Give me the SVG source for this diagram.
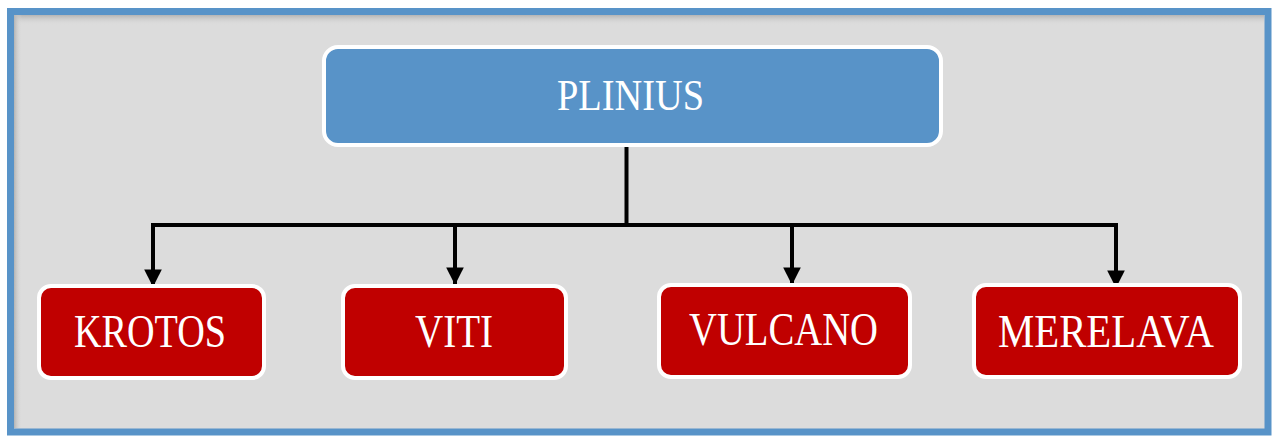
<svg xmlns="http://www.w3.org/2000/svg" width="1277" height="438" viewBox="0 0 1277 438">
<defs>
<style>
.frame{fill:#dcdcdc;stroke:#5893c8;stroke-width:7}
.top{fill:#5893c8;stroke:#fff;stroke-width:4}
.child{fill:#c00000;stroke:#fff;stroke-width:4}
.lbl{font-family:"Liberation Serif","Times New Roman",serif;fill:#fff;text-anchor:middle}
.conn{fill:none;stroke:#000;stroke-width:4}
</style>
<linearGradient id="shT" x1="0" y1="0" x2="0" y2="1"><stop offset="0" stop-color="#b4b4b4"/><stop offset="1" stop-color="#dcdcdc" stop-opacity="0"/></linearGradient>
<linearGradient id="shL" x1="0" y1="0" x2="1" y2="0"><stop offset="0" stop-color="#b4b4b4"/><stop offset="1" stop-color="#dcdcdc" stop-opacity="0"/></linearGradient>
<marker id="arr" viewBox="0 0 10 10" refX="10" refY="5" markerWidth="4.6" markerHeight="4.4" orient="auto" markerUnits="strokeWidth"><path d="M0,0 L10,5 L0,10 z" fill="#000"/></marker>
</defs>
<g id="frame">
<rect class="frame" x="10.5" y="11.5" width="1257.5" height="420.5"/>
<rect x="14" y="15" width="1250" height="10" fill="url(#shT)"/>
<rect x="14" y="15" width="8" height="413" fill="url(#shL)"/>
</g>
<g id="connectors">
<path class="conn" d="M626.5,147 V225"/>
<path class="conn" d="M153,225 H1116"/>
<path class="conn" d="M153,223 V287" marker-end="url(#arr)"/>
<path class="conn" d="M455,225 V285" marker-end="url(#arr)"/>
<path class="conn" d="M792,225 V285" marker-end="url(#arr)"/>
<path class="conn" d="M1116,223 V288" marker-end="url(#arr)"/>
</g>
<g id="plinius">
<rect class="top" x="324" y="47" width="617" height="98" rx="14"/>
<text class="lbl" x="630.5" y="110" font-size="45" textLength="147" lengthAdjust="spacingAndGlyphs">PLINIUS</text>
</g>
<g id="krotos">
<rect class="child" x="39" y="286" width="225" height="92" rx="12"/>
<text class="lbl" x="150" y="347" font-size="47" textLength="152" lengthAdjust="spacingAndGlyphs">KROTOS</text>
</g>
<g id="viti">
<rect class="child" x="343" y="286" width="223" height="92" rx="12"/>
<text class="lbl" x="454" y="347" font-size="47" textLength="78" lengthAdjust="spacingAndGlyphs">VITI</text>
</g>
<g id="vulcano">
<rect class="child" x="659" y="285" width="251" height="92" rx="12"/>
<text class="lbl" x="783.5" y="345" font-size="47" textLength="189" lengthAdjust="spacingAndGlyphs">VULCANO</text>
</g>
<g id="merelava">
<rect class="child" x="974" y="285" width="266" height="92" rx="12"/>
<text class="lbl" x="1106" y="347" font-size="47" textLength="216" lengthAdjust="spacingAndGlyphs">MERELAVA</text>
</g>
</svg>
